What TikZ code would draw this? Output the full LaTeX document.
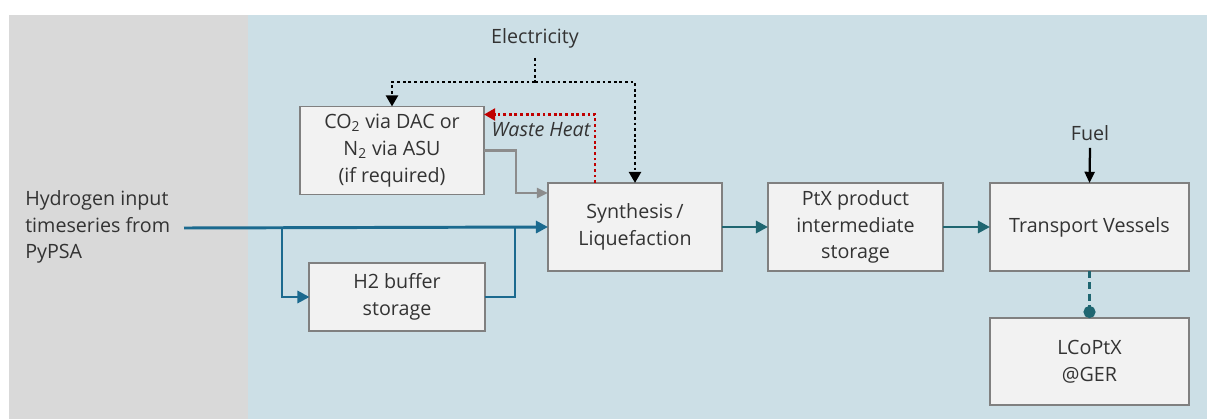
\documentclass[tikz,border=0pt]{standalone}
\usepackage{fontspec}
\setmainfont{Open Sans}
\usetikzlibrary{arrows.meta,calc}

\definecolor{bggray}{HTML}{D9D9D9}
\definecolor{bgblue}{HTML}{CCDFE6}
\definecolor{boxfill}{HTML}{F2F2F2}
\definecolor{boxline}{HTML}{808080}
\definecolor{htwoblue}{HTML}{1B6A8F}
\definecolor{prodteal}{HTML}{1F6671}
\definecolor{gasgray}{HTML}{8C8C8C}
\definecolor{heatred}{HTML}{C00000}
\definecolor{txtgray}{HTML}{333333}

\tikzset{
  box/.style={draw=boxline, fill=boxfill, line width=1.4pt, align=center,
    inner sep=2pt, outer sep=0pt, text=txtgray},
  label/.style={text=txtgray, align=left, inner sep=0pt},
  htwoflow/.style={draw=htwoblue, line width=2.1pt},
  prodflow/.style={draw=prodteal, line width=2.1pt},
  gasflow/.style={draw=gasgray, line width=1.8pt},
  elecflow/.style={draw=black, line width=2.1pt, dash pattern=on 2pt off 2pt},
  heatflow/.style={draw=heatred, line width=1.9pt, dash pattern=on 2pt off 2pt},
  tip/.style={-{Triangle[length=0.3cm,width=0.3cm]}}
}

\begin{document}
\begin{tikzpicture}[x=0.025cm,y=-0.025cm,
  every node/.append style={font=\fontsize{14}{19}\selectfont}]
  \useasboundingbox (0,0) rectangle (1208,419);
  % background panels
  \fill[bggray] (9,15) rectangle (248,419);
  \fill[bgblue] (248,15) rectangle (1207,419);

  % boxes
  \node[box, minimum width=4.6cm, minimum height=2.2cm] (co2) at (392,150.5)
    {CO\textsubscript{2} via DAC or\\N\textsubscript{2} via ASU\\(if required)};
  \node[box, minimum width=4.35cm, minimum height=2.2cm] (syn) at (635,227)
    {Synthesis\,/\\Liquefaction};
  \node[box, minimum width=4.375cm, minimum height=1.7cm] (buf) at (397,297)
    {H2 buffer\\storage};
  \node[box, minimum width=4.375cm, minimum height=2.2cm] (ptx) at (855.5,227)
    {PtX product\\intermediate\\storage};
  \node[box, minimum width=4.975cm, minimum height=2.2cm] (trans) at (1089.5,227)
    {Transport Vessels};
  \node[box, minimum width=4.975cm, minimum height=2.175cm] (lco) at (1089.5,361.5)
    {LCoPtX\\@GER};

  % texts
  \node[label, anchor=west] (hyd) at (25,227)
    {Hydrogen input\\timeseries from\\PyPSA};
  \node[label] (elec) at (535,38) {Electricity};
  \node[label] (fuel) at (1090,133) {Fuel};
  \node[label] (heat) at (541,130) {\itshape Waste Heat};

  % hydrogen path
  \coordinate (hin) at (184,228);
  \coordinate (split) at (282,228);
  \coordinate (join) at (515,228);
  \draw[htwoflow, tip] (hin) -- (syn.west);
  \draw[htwoflow, tip] (split) |- (buf.west);
  \draw[htwoflow] (buf.east) -| (join);

  % product path
  \draw[prodflow, tip] (syn.east) -- (ptx.west);
  \draw[prodflow, tip] (ptx.east) -- (trans.west);
  \draw[prodflow, dash pattern=on 5pt off 3pt, -{Circle[length=0.3cm]}] (trans.south) -- (lco.north);

  % fuel
  \draw[line width=1.6pt, -{Triangle[length=0.28cm,width=0.25cm]}] (fuel.south) ++(0,7) -- (trans.north);

  % co2 / n2 feed
  \coordinate (gin) at ($(syn.north west)+(0,10)$);
  \draw[gasflow, -{Triangle[length=0.28cm,width=0.25cm]}] (co2.east) -- ++(32,0) |- (gin);

  % electricity
  \coordinate (etop) at (535,58);
  \coordinate (ebus) at (535,82);
  \draw[elecflow] (etop) -- (ebus);
  \draw[elecflow, -{Triangle[length=0.28cm,width=0.3cm]}] (ebus) -| (co2.north);
  \draw[elecflow, -{Triangle[length=0.28cm,width=0.3cm]}] (ebus) -| (syn.north);

  % waste heat
  \coordinate (hout) at ($(syn.north)+(-40,0)$);
  \coordinate (hin2) at ($(co2.north east)+(0,8)$);
  \draw[heatflow, -{Triangle[length=0.28cm,width=0.3cm]}] (hout) |- (hin2);
\end{tikzpicture}
\end{document}
